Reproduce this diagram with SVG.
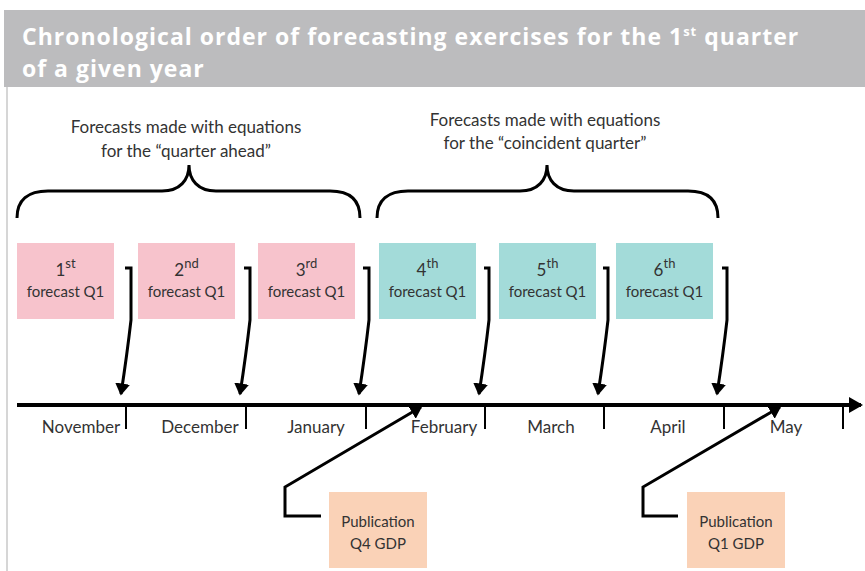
<svg xmlns="http://www.w3.org/2000/svg" width="865" height="571" viewBox="0 0 865 571">
<style>
.t{font-family:Lato,"Liberation Sans",sans-serif;fill:#333;}
.body{font-size:17px;}
.box{font-size:15px;}
.num{font-size:17px;}
.mon{font-size:17px;}
.ttl{font-family:"Open Sans","Liberation Sans",sans-serif;font-weight:bold;font-size:23px;letter-spacing:1px;fill:#fff;}
.ln{fill:none;stroke:#000;stroke-width:3;stroke-linejoin:miter;}
.tick{stroke:#000;stroke-width:2;}
.pink{fill:#F7C3CC;}
.teal{fill:#A3DBD9;}
.peach{fill:#FAD2B7;}
</style>
<defs>
<marker id="ah" markerWidth="5" markerHeight="5" refX="3.5" refY="2.5" orient="auto" markerUnits="strokeWidth">
<path d="M0,0 L4,2.5 L0,5 Z" fill="#000"/>
</marker>
<marker id="ah2" markerWidth="4" markerHeight="4" refX="3" refY="2" orient="auto" markerUnits="strokeWidth">
<path d="M0,0 L3.5,2 L0,4 Z" fill="#000"/>
</marker>
</defs>
<rect x="0" y="0" width="865" height="571" fill="#fff"/>
<rect x="4" y="10" width="861" height="77" fill="#BCBCBE"/>
<line x1="7" y1="87" x2="7" y2="571" stroke="#c8c8c8" stroke-width="1.5"/>
<text class="ttl" x="22" y="45">Chronological order of forecasting exercises for the 1<tspan font-size="13" dy="-9">st</tspan><tspan dy="9"> quarter</tspan></text>
<text class="ttl" x="22" y="77">of a given year</text>

<g id="label-ahead">
<text class="t body" x="186" y="133" text-anchor="middle">Forecasts made with equations</text>
<text class="t body" x="186" y="157" text-anchor="middle">for the “quarter ahead”</text>
</g>
<g id="label-coincident">
<text class="t body" x="545" y="126" text-anchor="middle">Forecasts made with equations</text>
<text class="t body" x="545" y="149" text-anchor="middle">for the “coincident quarter”</text>
</g>
<g id="brace-ahead">
<path class="ln" stroke-width="2" d="M17,218 C17,200 28,191 48,191 L162,191 C180,191 189,180 189,165 C189,180 198,191 216,191 L330,191 C350,191 360,200 360,218"/>
</g>
<g id="brace-coincident">
<path class="ln" stroke-width="2" d="M377,218 C377,200 388,191 408,191 L520,191 C538,191 547,180 547,165 C547,180 556,191 574,191 L688,191 C708,191 718,200 718,218"/>
</g>

<g id="f1"><rect class="pink" x="17" y="243" width="97" height="76"/>
<text class="t num" x="65.5" y="276" text-anchor="middle">1<tspan font-size="13" dy="-8">st</tspan></text>
<text class="t box" x="65.5" y="297" text-anchor="middle">forecast Q1</text></g>
<g id="f2"><rect class="pink" x="138" y="243" width="97" height="76"/>
<text class="t num" x="186.5" y="276" text-anchor="middle">2<tspan font-size="13" dy="-8">nd</tspan></text>
<text class="t box" x="186.5" y="297" text-anchor="middle">forecast Q1</text></g>
<g id="f3"><rect class="pink" x="258" y="243" width="97" height="76"/>
<text class="t num" x="306.5" y="276" text-anchor="middle">3<tspan font-size="13" dy="-8">rd</tspan></text>
<text class="t box" x="306.5" y="297" text-anchor="middle">forecast Q1</text></g>
<g id="f4"><rect class="teal" x="379" y="243" width="97" height="76"/>
<text class="t num" x="427.5" y="276" text-anchor="middle">4<tspan font-size="13" dy="-8">th</tspan></text>
<text class="t box" x="427.5" y="297" text-anchor="middle">forecast Q1</text></g>
<g id="f5"><rect class="teal" x="499" y="243" width="97" height="76"/>
<text class="t num" x="547.5" y="276" text-anchor="middle">5<tspan font-size="13" dy="-8">th</tspan></text>
<text class="t box" x="547.5" y="297" text-anchor="middle">forecast Q1</text></g>
<g id="f6"><rect class="teal" x="616" y="243" width="97" height="76"/>
<text class="t num" x="664.5" y="276" text-anchor="middle">6<tspan font-size="13" dy="-8">th</tspan></text>
<text class="t box" x="664.5" y="297" text-anchor="middle">forecast Q1</text></g>

<g id="p1"><rect class="peach" x="329" y="492" width="98" height="76"/>
<text class="t box" x="378" y="527" text-anchor="middle">Publication</text>
<text class="t box" x="378" y="549" text-anchor="middle">Q4 GDP</text></g>
<g id="p2"><rect class="peach" x="687" y="492" width="98" height="76"/>
<text class="t box" x="736" y="527" text-anchor="middle">Publication</text>
<text class="t box" x="736" y="549" text-anchor="middle">Q1 GDP</text></g>

<g id="timeline">
<line x1="17" y1="405" x2="861" y2="405" stroke="#000" stroke-width="4" marker-end="url(#ah2)"/>
<line class="tick" x1="126" y1="405" x2="126" y2="429"/>
<line class="tick" x1="246" y1="405" x2="246" y2="429"/>
<line class="tick" x1="366" y1="405" x2="366" y2="429"/>
<line class="tick" x1="485" y1="405" x2="485" y2="429"/>
<line class="tick" x1="604" y1="405" x2="604" y2="429"/>
<line class="tick" x1="724" y1="405" x2="724" y2="429"/>
<line class="tick" x1="843" y1="405" x2="843" y2="429"/>
<text class="t mon" x="81" y="433" text-anchor="middle">November</text>
<text class="t mon" x="200" y="433" text-anchor="middle">December</text>
<text class="t mon" x="316" y="433" text-anchor="middle">January</text>
<text class="t mon" x="444" y="433" text-anchor="middle">February</text>
<text class="t mon" x="551" y="433" text-anchor="middle">March</text>
<text class="t mon" x="668" y="433" text-anchor="middle">April</text>
<text class="t mon" x="786" y="433" text-anchor="middle">May</text>
</g>

<g id="connectors">
<path class="ln" d="M125,268 L131,268 L131,320 Q127,355 121,394" marker-end="url(#ah)"/>
<path class="ln" d="M244,268 L250,268 L250,320 Q246,355 240,394" marker-end="url(#ah)"/>
<path class="ln" d="M363,268 L369,268 L369,320 Q365,355 359,394" marker-end="url(#ah)"/>
<path class="ln" d="M484,268 L489,268 L489,320 Q485,355 479,394" marker-end="url(#ah)"/>
<path class="ln" d="M603,268 L608,268 L608,320 Q604,355 598,394" marker-end="url(#ah)"/>
<path class="ln" d="M722,268 L727,268 L727,320 Q723,355 717,394" marker-end="url(#ah)"/>
<path class="ln" d="M321,516 L285,516 L285,487 L421,407" marker-end="url(#ah)"/>
<path class="ln" d="M678,516 L643,516 L643,487 L780,407" marker-end="url(#ah)"/>
</g>
</svg>
